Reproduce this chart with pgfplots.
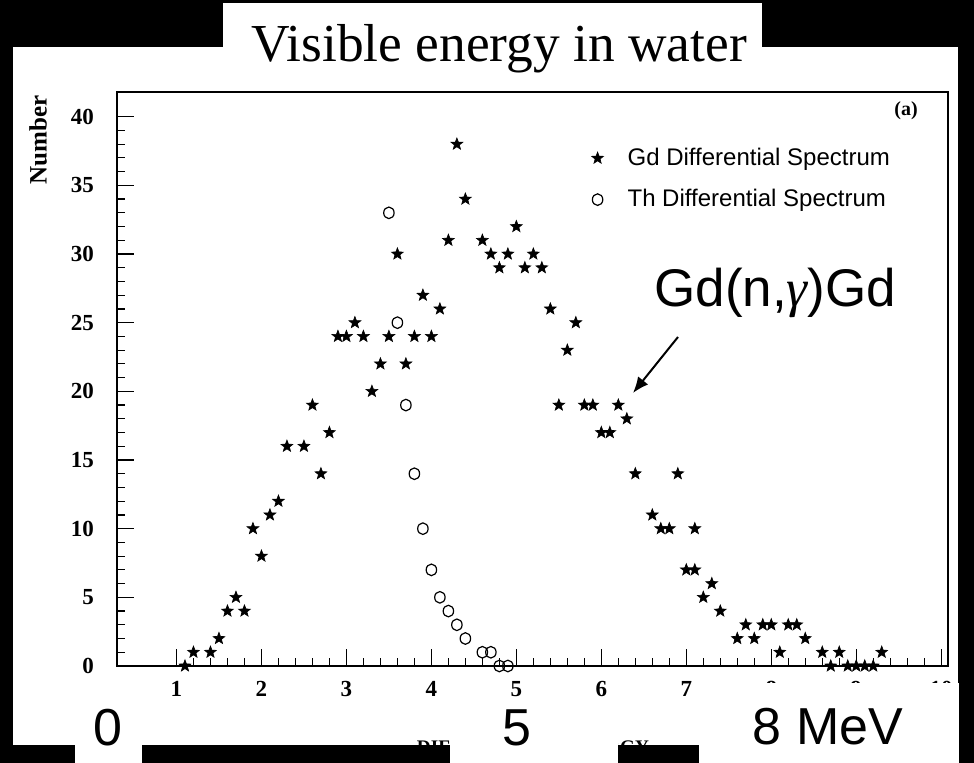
\documentclass[border=0pt]{standalone}
\usepackage{fontspec}
\setmainfont{Liberation Serif}
\setsansfont{Liberation Sans}
\usepackage{pgfplots}
\pgfplotsset{compat=1.18}
\usetikzlibrary{arrows.meta}

% filled five-pointed star
\pgfdeclareplotmark{fstar}{%
  \pgfpathmoveto{\pgfpointpolar{90}{\pgfplotmarksize}}%
  \pgfpathlineto{\pgfpointpolar{126}{0.42\pgfplotmarksize}}%
  \pgfpathlineto{\pgfpointpolar{162}{\pgfplotmarksize}}%
  \pgfpathlineto{\pgfpointpolar{198}{0.42\pgfplotmarksize}}%
  \pgfpathlineto{\pgfpointpolar{234}{\pgfplotmarksize}}%
  \pgfpathlineto{\pgfpointpolar{270}{0.42\pgfplotmarksize}}%
  \pgfpathlineto{\pgfpointpolar{306}{\pgfplotmarksize}}%
  \pgfpathlineto{\pgfpointpolar{342}{0.42\pgfplotmarksize}}%
  \pgfpathlineto{\pgfpointpolar{18}{\pgfplotmarksize}}%
  \pgfpathlineto{\pgfpointpolar{54}{0.42\pgfplotmarksize}}%
  \pgfpathclose
  \pgfusepathqfillstroke
}

\begin{document}
\begin{tikzpicture}
% background and white panels (pixel-like units, y downward)
\begin{scope}[shift={(0pt,381.5pt)}, x=0.5pt, y=-0.5pt]
  \fill[black] (0,0) rectangle (974,763);
  \fill[white] (13,47) rectangle (958,745);
  \fill[white] (223,3) rectangle (762,48);
\end{scope}

\begin{axis}[
  at={(58.5pt,48.5pt)}, anchor=south west,
  scale only axis, width=415.5pt, height=287pt,
  xmin=0.3, xmax=10.08, ymin=0, ymax=41.8,
  xtick={1,...,10}, ytick={0,5,...,40},
  minor x tick num=4, minor y tick num=4,
  xtick pos=left, ytick pos=left,
  tick align=inside,
  major tick length=8.5pt, minor tick length=4pt,
  axis line style={line width=0.8pt, black},
  every tick/.style={line width=0.6pt, black},
  tick label style={font=\fontsize{11.5}{13}\selectfont\bfseries},
  /pgf/number format/assume math mode=true,
  yticklabel style={xshift=-8pt},
  xticklabel style={yshift=-4pt},
  clip=false,
  legend image code/.code={%
    \path[draw=none] (0pt,0pt) -- (17.5pt,0pt);
    \draw[#1] plot coordinates {(4.5pt,0pt)};},
  legend style={draw=none, fill=none, at={(0.567,0.91)}, anchor=north west,
    font=\sffamily\fontsize{12}{14}\selectfont, row sep=6.5pt, inner sep=0pt},
  legend cell align=left,
]
\addplot[only marks, mark=fstar, mark size=3.1pt, black, mark options={fill=black, line width=0.3pt}]
coordinates {
(1.1,0) (1.2,1) (1.4,1) (1.5,2) (1.6,4) (1.7,5) (1.8,4) (1.9,10) (2.0,8)
(2.1,11) (2.2,12) (2.3,16) (2.5,16) (2.6,19) (2.7,14) (2.8,17) (2.9,24)
(3.0,24) (3.1,25) (3.2,24) (3.3,20) (3.4,22) (3.5,24) (3.6,30) (3.7,22)
(3.8,24) (3.9,27) (4.0,24) (4.1,26) (4.2,31) (4.3,38) (4.4,34) (4.6,31)
(4.7,30) (4.8,29) (4.9,30) (5.0,32) (5.1,29) (5.2,30) (5.3,29) (5.4,26)
(5.5,19) (5.6,23) (5.7,25) (5.8,19) (5.9,19) (6.0,17) (6.1,17) (6.2,19)
(6.3,18) (6.4,14) (6.6,11) (6.7,10) (6.8,10) (6.9,14) (7.0,7) (7.1,7)
(7.1,10) (7.2,5) (7.3,6) (7.4,4) (7.6,2) (7.7,3) (7.8,2) (7.9,3) (8.0,3)
(8.1,1) (8.2,3) (8.3,3) (8.4,2) (8.6,1) (8.7,0) (8.8,1) (8.9,0) (9.0,0)
(9.1,0) (9.2,0) (9.3,1)
};
\addlegendentry{Gd Differential Spectrum}
\addplot[only marks, mark=o, mark size=2.9pt, black, mark options={line width=0.6pt, xscale=0.9}]
coordinates {
(3.5,33) (3.6,25) (3.7,19) (3.8,14) (3.9,10) (4.0,7) (4.1,5) (4.2,4)
(4.3,3) (4.4,2) (4.6,1) (4.7,1) (4.8,0) (4.9,0)
};
\addlegendentry{Th Differential Spectrum}
\end{axis}

\begin{scope}[shift={(0pt,381.5pt)}, x=0.5pt, y=-0.5pt]
  % titles and labels
  \node[anchor=base, inner sep=0, font=\fontsize{26.7}{30}\selectfont] at (499,62) {Visible energy in water};
  \node[rotate=90, inner sep=0, font=\bfseries\fontsize{12.5}{14}\selectfont] at (38,140) {Number};
  \node[inner sep=0, font=\bfseries\fontsize{10}{12}\selectfont] at (906,111) {(a)};
  \node[anchor=north, inner sep=0, font=\bfseries\fontsize{9.6}{11}\selectfont] at (533,740) {DIFFERENTIAL ENERGY};
  % annotation
  \node[anchor=base west, inner sep=0, font=\sffamily\fontsize{26.5}{30}\selectfont] at (654,307) {Gd(n,{\rmfamily\itshape γ})Gd};
  \draw[line width=1pt, -{Latex[length=8pt,width=6.5pt]}] (678,337) -- (633,393);
  % lower strip with the energy scale
  \fill[black] (13,745) rectangle (958,763);
  \fill[white] (75,683) rectangle (142,763);
  \fill[white] (450,703) rectangle (618,763);
  \fill[white] (699,683) rectangle (959,763);
  \node[anchor=base, inner sep=0, font=\sffamily\fontsize{26}{30}\selectfont] at (108,746) {0};
  \node[anchor=base, inner sep=0, font=\sffamily\fontsize{26}{30}\selectfont] at (517,746) {5};
  \node[anchor=base, inner sep=0, font=\sffamily\fontsize{26}{30}\selectfont] at (828,745) {8 MeV};
\end{scope}
\pgfresetboundingbox
\path[use as bounding box] (0pt,0pt) rectangle (487pt,381.5pt);
\end{tikzpicture}
\end{document}
